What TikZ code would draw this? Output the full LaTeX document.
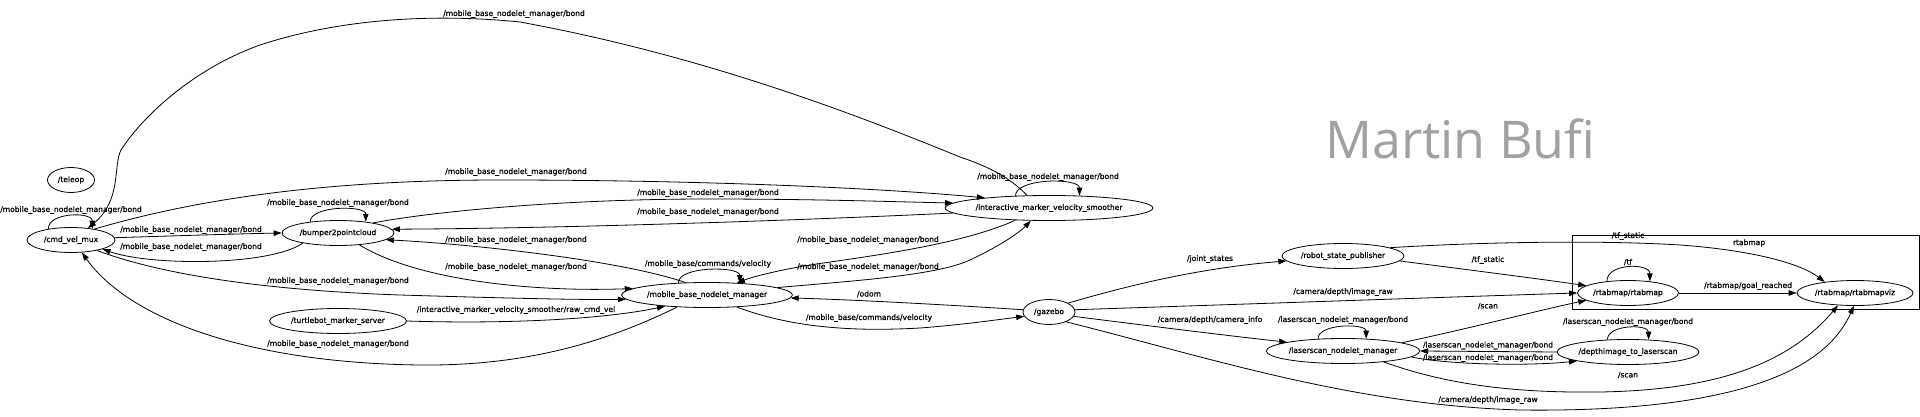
\documentclass[tikz,border=0pt]{standalone}
\usepackage{fontspec}
\newfontfamily\graphfont[FakeBold=0.8]{DejaVu Sans}
\newfontfamily\markfont{Open Sans}
\usepackage{tikz}
\usetikzlibrary{positioning,arrows.meta,shapes.geometric}

\begin{document}
\begin{tikzpicture}[
        x=1pt, y=-1pt,
        rosNode/.style={draw, ellipse, line width=0.8pt, inner sep=0pt, minimum height=25pt, font={\graphfont\fontsize{7.55}{9}\selectfont}},
        topicEdge/.style={-{Triangle[length=8pt,width=5.5pt]}, line width=0.8pt},
        topicLabel/.style={inner sep=0pt, font={\graphfont\fontsize{7.55}{9}\selectfont}},
        groupBox/.style={draw, line width=0.8pt}
    ]
        \useasboundingbox[fill=white] (0,0) rectangle (1920,417);

        % Watermark
        \node[anchor=base west, inner sep=0pt, text=black!37, font={\markfont\fontsize{52}{60}\selectfont}] (watermark) at (1325,158) {Martin Bufi};

        % rtabmap group
        \draw[groupBox] (1572,235) rectangle (1919,309);
        \node[topicLabel] (groupLabel) at (1749,243) {rtabmap};

        % Nodes
        \node[rosNode, minimum width=47pt] (teleop) at (71,180) {/teleop};
        \node[rosNode, minimum width=88pt] (cmdmux) at (71,240) {/cmd\_vel\_mux};
        \node[rosNode, minimum width=112pt] (bumper) at (338,233) {/bumper2pointcloud};
        \node[rosNode, minimum width=137pt] (markerserver) at (338,321) {/turtlebot\_marker\_server};
        \node[rosNode, minimum width=171pt] (basemanager) at (707,295) {/mobile\_base\_nodelet\_manager};
        \node[rosNode, minimum width=206pt] (smoother) at (1049,208) {/interactive\_marker\_velocity\_smoother};
        \node[rosNode, minimum width=52pt] (gazebo) at (1049,312) {/gazebo};
        \node[rosNode, minimum width=122pt] (statepub) at (1343,256) {/robot\_state\_publisher};
        \node[rosNode, minimum width=152pt] (lasermanager) at (1343,351) {/laserscan\_nodelet\_manager};
        \node[rosNode, minimum width=101pt] (rtabmap) at (1628,293) {/rtabmap/rtabmap};
        \node[rosNode, minimum width=142pt] (depthscan) at (1628,352) {/depthimage\_to\_laserscan};
        \node[rosNode, minimum width=116pt] (rtabviz) at (1855,293) {/rtabmap/rtabmapviz};

        % Self loops
        \draw[topicEdge] (cmdmux.154) .. controls +(0,-17) and +(0,-17) .. (cmdmux.28)
            node[topicLabel] (cmdmuxBond) at (71,210) {/mobile\_base\_nodelet\_manager/bond};
        \draw[topicEdge] (bumper.158) .. controls +(0,-16.5) and +(0,-16.5) .. (bumper.22)
            node[topicLabel] (bumperBond) at (338,203) {/mobile\_base\_nodelet\_manager/bond};
        \draw[topicEdge] (smoother.160) .. controls +(0,-18) and +(0,-18) .. (smoother.22)
            node[topicLabel] (smootherBond) at (1048,177) {/mobile\_base\_nodelet\_manager/bond};
        \draw[topicEdge] (basemanager.157) .. controls +(0,-17) and +(0,-17) .. (basemanager.20)
            node[topicLabel] (baseVelocity) at (708,264) {/mobile\_base/commands/velocity};
        \draw[topicEdge] (rtabmap.151) .. controls +(0,-18.5) and +(0,-18.5) .. (rtabmap.28)
            node[topicLabel] (rtabmapTf) at (1628,262) {/tf};
        \draw[topicEdge] (depthscan.149) .. controls +(0,-15.5) and +(0,-15.5) .. (depthscan.31)
            node[topicLabel] (depthBond) at (1628,322) {/laserscan\_nodelet\_manager/bond};
        \draw[topicEdge] (lasermanager.154) .. controls +(0,-15.5) and +(0,-15.5) .. (lasermanager.28)
            node[topicLabel] (laserBond) at (1343,320) {/laserscan\_nodelet\_manager/bond};

        % Left part: bond topics
        \draw[topicEdge] (cmdmux.3) .. controls (170,236) and (230,234) .. (bumper.180)
            node[topicLabel] (muxToBumper) at (191,230) {/mobile\_base\_nodelet\_manager/bond};
        \draw[topicEdge] (bumper.196) .. controls (270,266) and (150,266) .. (cmdmux.-16)
            node[topicLabel] (bumperToMux) at (191,247) {/mobile\_base\_nodelet\_manager/bond};
        \draw[topicEdge] (smoother.150) .. controls (1010,178) and (990,167) .. (960,157)
            .. controls (850,112) and (700,55) .. (520,22)
            .. controls (420,12) and (330,22) .. (260,45)
            .. controls (190,70) and (140,120) .. (121,150)
            .. controls (113,165) and (122,200) .. (cmdmux.35)
            node[topicLabel] (arcBond) at (514,14) {/mobile\_base\_nodelet\_manager/bond};
        \draw[topicEdge] (cmdmux.25) .. controls (200,198) and (330,180) .. (500,180)
            .. controls (700,180) and (880,188) .. (smoother.171)
            node[topicLabel] (muxToSmoother) at (516,172) {/mobile\_base\_nodelet\_manager/bond};
        \draw[topicEdge] (bumper.16) .. controls (430,212) and (560,199) .. (708,199)
            .. controls (820,199) and (900,202) .. (smoother.177)
            node[topicLabel] (bumperToSmoother) at (708,193) {/mobile\_base\_nodelet\_manager/bond};
        \draw[topicEdge] (smoother.183) .. controls (850,218) and (600,228) .. (bumper.4)
            node[topicLabel] (smootherToBumper) at (708,212) {/mobile\_base\_nodelet\_manager/bond};
        \draw[topicEdge] (bumper.-29) .. controls (420,282) and (540,292) .. (basemanager.175)
            node[topicLabel] (bumperToBase) at (516,267) {/mobile\_base\_nodelet\_manager/bond};
        \draw[topicEdge] (basemanager.150) .. controls (620,260) and (470,244) .. (bumper.-8)
            node[topicLabel] (baseToBumper) at (516,240) {/mobile\_base\_nodelet\_manager/bond};
        \draw[topicEdge] (cmdmux.-22) .. controls (160,274) and (260,290) .. (400,295)
            .. controls (500,298) and (580,300) .. (basemanager.183)
            node[topicLabel] (muxToBase) at (338,281) {/mobile\_base\_nodelet\_manager/bond};
        \draw[topicEdge] (markerserver.east) .. controls (500,324) and (600,320) .. (basemanager.195)
            node[topicLabel] (rawCmdVel) at (516,310) {/interactive\_marker\_velocity\_smoother/raw\_cmd\_vel};
        \draw[topicEdge] (basemanager.202) .. controls (600,345) and (520,366) .. (420,365)
            .. controls (250,363) and (130,320) .. (cmdmux.-49)
            node[topicLabel] (baseToMux) at (338,344) {/mobile\_base\_nodelet\_manager/bond};
        \draw[topicEdge] (smoother.200) .. controls (960,245) and (870,256) .. (810,265)
            .. controls (780,270) and (755,276) .. (basemanager.22)
            node[topicLabel] (smootherToBase) at (868,240) {/mobile\_base\_nodelet\_manager/bond};
        \draw[topicEdge] (basemanager.6) .. controls (850,281) and (935,276) .. (970,260)
            .. controls (1000,246) and (1020,232) .. (smoother.215)
            node[topicLabel] (baseToSmoother) at (868,267) {/mobile\_base\_nodelet\_manager/bond};

        % Simulation
        \draw[topicEdge] (gazebo.175) .. controls (950,305) and (860,300) .. (basemanager.-2)
            node[topicLabel] (odom) at (869,294) {/odom};
        \draw[topicEdge] (basemanager.-22) .. controls (790,327) and (850,332) .. (920,328)
            .. controls (960,325) and (995,320) .. (gazebo.190)
            node[topicLabel] (cmdVelocity) at (869,318) {/mobile\_base/commands/velocity};
        \draw[topicEdge] (gazebo.25) .. controls (1130,285) and (1200,268) .. (statepub.185)
            node[topicLabel] (jointStates) at (1210,259) {/joint\_states};
        \draw[topicEdge] (gazebo.5) .. controls (1250,304) and (1450,297) .. (rtabmap.180)
            node[topicLabel] (imageRawTop) at (1343,292) {/camera/depth/image\_raw};
        \draw[topicEdge] (gazebo.-10) .. controls (1150,326) and (1230,336) .. (lasermanager.171)
            node[topicLabel] (cameraInfo) at (1210,320) {/camera/depth/camera\_info};
        \draw[topicEdge] (gazebo.-30) .. controls (1200,355) and (1350,405) .. (1520,410)
            .. controls (1760,413) and (1830,360) .. (rtabviz.-95)
            node[topicLabel] (imageRawLow) at (1488,400) {/camera/depth/image\_raw};

        % Right part
        \draw[topicEdge] (statepub.-5) .. controls (1470,270) and (1540,279) .. (rtabmap.170)
            node[topicLabel] (tfStaticA) at (1488,260) {/tf\_static};
        \draw[topicEdge] (statepub.10) .. controls (1480,242) and (1600,240) .. (1680,245)
            .. controls (1750,250) and (1800,263) .. (rtabviz.160)
            node[topicLabel] (tfStaticB) at (1628,236) {/tf\_static};
        \draw[topicEdge] (rtabmap.east) -- (rtabviz.west)
            node[topicLabel] (goalReached) at (1748,286) {/rtabmap/goal\_reached};
        \draw[topicEdge] (lasermanager.8) .. controls (1480,326) and (1540,310) .. (rtabmap.190)
            node[topicLabel] (scanTop) at (1488,306) {/scan};
        \draw[topicEdge] (lasermanager.-15) .. controls (1450,386) and (1520,393) .. (1600,392)
            .. controls (1720,390) and (1790,362) .. (rtabviz.-144)
            node[topicLabel] (scanLow) at (1628,375) {/scan};
        \draw[topicEdge] (depthscan.west) -- (lasermanager.east)
            node[topicLabel] (depthToLaser) at (1488,345.5) {/laserscan\_nodelet\_manager/bond};
        \draw[topicEdge] (lasermanager.-5) .. controls (1450,365) and (1530,366) .. (depthscan.-170)
            node[topicLabel] (laserToDepth) at (1488,358) {/laserscan\_nodelet\_manager/bond};
    \end{tikzpicture}
\end{document}
